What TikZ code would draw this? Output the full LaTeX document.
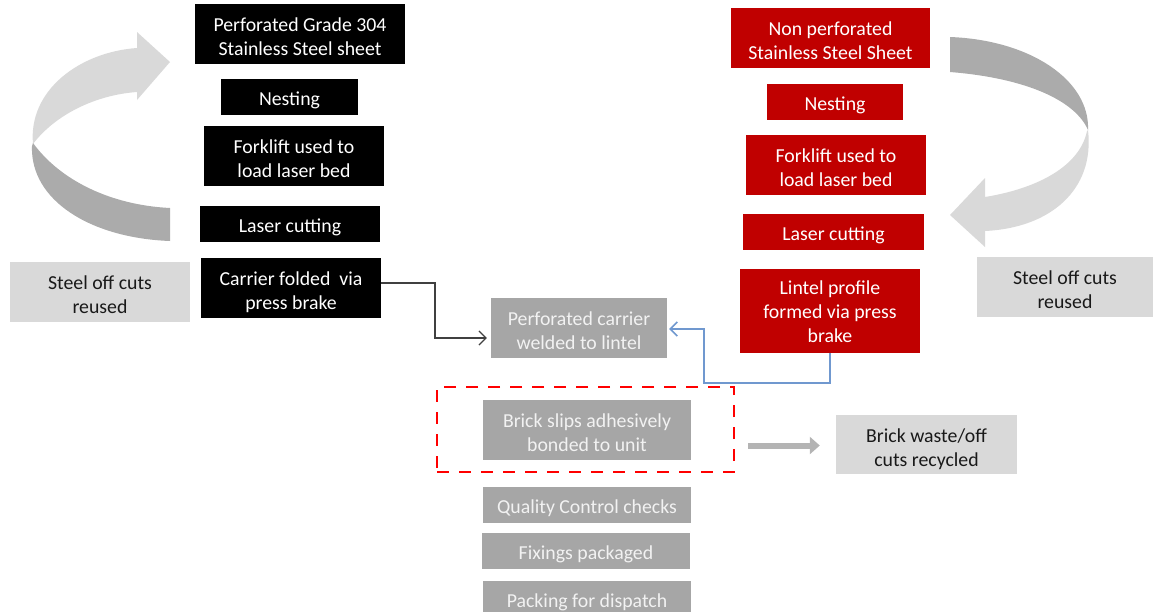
\documentclass[tikz,border=0pt]{standalone}
\usepackage{fontspec}
\setmainfont{Carlito}
\usetikzlibrary{arrows.meta,calc}
\definecolor{cred}{HTML}{C00000}
\definecolor{cgray}{HTML}{A6A6A6}
\definecolor{clight}{HTML}{D9D9D9}
\definecolor{cdark}{HTML}{ABABAB}
\definecolor{cblue}{HTML}{7098CF}
\definecolor{cline}{HTML}{404040}
\definecolor{ctxt}{HTML}{F2F2F2}
\definecolor{cbarrow}{HTML}{B4B4B4}
\newcommand{\bxs}{\rule[-3.8pt]{0pt}{23.3pt}}
\newcommand{\bxt}{\rule[-3.8pt]{0pt}{27.5pt}}
\newcommand{\bxo}{\rule[-3.8pt]{0pt}{25.3pt}}
\tikzset{
  base/.style={rectangle, inner sep=0pt, align=center, font=\fontsize{19.8}{24}\selectfont},
  sz/.style 2 args={minimum width=#1pt, minimum height=#2pt},
  blkbox/.style={base, fill=black, text=white},
  redbox/.style={base, fill=cred, text=white},
  midbox/.style={base, fill=cgray, text=ctxt},
  lgtbox/.style={base, fill=clight, text=black!90},
  dashbox/.style={rectangle, draw=red, line width=2.5pt, dash pattern=on 12pt off 10pt, inner sep=0pt},
  conn/.style={draw=cline, line width=1.2pt, -{Straight Barb[length=7pt,width=14pt]}, shorten >=4pt},
  bconn/.style={draw=cblue, line width=1.5pt, -{Straight Barb[length=7pt,width=14pt]}, shorten >=2pt},
  garrow/.style={draw=cbarrow, line width=6pt, -{Triangle[length=10pt,width=17pt]}},
}
\begin{document}
\begin{tikzpicture}[x=1pt,y=-1pt]
\useasboundingbox (0,0) rectangle (1153,611);
% left circular arrow
\fill[clight] (33,144) .. controls (28,90) and (80,52) .. (137,48) -- (137,32) -- (170,62) -- (137,100) -- (137,92) .. controls (95,95) and (55,115) .. (33,144) -- cycle;
\fill[cdark] (33,143) .. controls (60,180) and (110,205) .. (170,208) -- (170,241) .. controls (90,238) and (30,200) .. (32,146) -- cycle;
% right circular arrow
\fill[cdark] (950,37) .. controls (1030,40) and (1090,80) .. (1088,130) .. controls (1075,100) and (1025,78) .. (950,72) -- cycle;
\fill[clight] (1088,130) .. controls (1095,190) and (1050,228) .. (985,231) -- (985,247) -- (950,215) -- (985,178) -- (985,197) .. controls (1040,188) and (1080,165) .. (1087,131) -- cycle;
% left column
\node[blkbox, sz={210}{60}] (L1) at (300,34) {\bxt Perforated Grade 304\\\bxs Stainless Steel sheet};
\node[blkbox, sz={137}{36}] (L2) at (289.5,97) {\bxo Nesting};
\node[blkbox, sz={180}{60}] (L3) at (294,156) {\bxt Forklift used to\\\bxs load laser bed};
\node[blkbox, sz={180}{36}] (L4) at (290,224) {\bxo Laser cutting};
\node[blkbox, sz={180}{60}] (L5) at (291,288) {\bxt Carrier folded~ via\\\bxs press brake};
\node[lgtbox, sz={180}{60}] (SL) at (100,292) {\bxt Steel off cuts\\\bxs reused};
% right column
\node[redbox, sz={199}{60}] (R1) at (830.5,38) {\bxt Non perforated\\\bxs Stainless Steel Sheet};
\node[redbox, sz={136}{36}] (R2) at (835,102) {\bxo Nesting};
\node[redbox, sz={180}{60}] (R3) at (836,165) {\bxt Forklift used to\\\bxs load laser bed};
\node[redbox, sz={181}{36}] (R4) at (833.5,232) {\bxo Laser cutting};
\node[redbox, sz={180}{84}] (R5) at (830,311) {\bxs Lintel profile\\\bxs formed via press\\\bxs brake};
\node[lgtbox, sz={176}{60}] (SR) at (1065,287) {\bxt Steel off cuts\\\bxs reused};
% middle column
\node[midbox, sz={176}{60}] (M1) at (579,328) {\bxt Perforated carrier\\\bxs welded to lintel};
\node[dashbox, sz={297}{85}] (DB) at (585.5,429.5) {};
\node[midbox, sz={208}{60}] (M2) at (587,430) {\bxt Brick slips adhesively\\\bxs bonded to unit};
\node[lgtbox, sz={181}{59}] (BW) at (926.5,444.5) {\bxt Brick waste/off\\\bxs cuts recycled};
\node[midbox, sz={208}{36}] (QC) at (587,505) {\bxo Quality Control checks};
\node[midbox, sz={208}{36}] (FX) at (586,551) {\bxo Fixings packaged};
\node[midbox, sz={208}{36}] (PK) at (587,599) {\bxo Packing for dispatch};
% connectors
\draw[conn] ($(L5.east)+(0,-5)$) -| (435,338) -- ($(M1.west)+(0,10)$);
\draw[bconn] (R5.south) -- ++(0,30) -| (704,329) -- ($(M1.east)+(0,1)$);
\draw[garrow] ($(DB.east)+(13,16)$) -- ($(BW.west)+(-16,1)$);
\end{tikzpicture}
\end{document}
